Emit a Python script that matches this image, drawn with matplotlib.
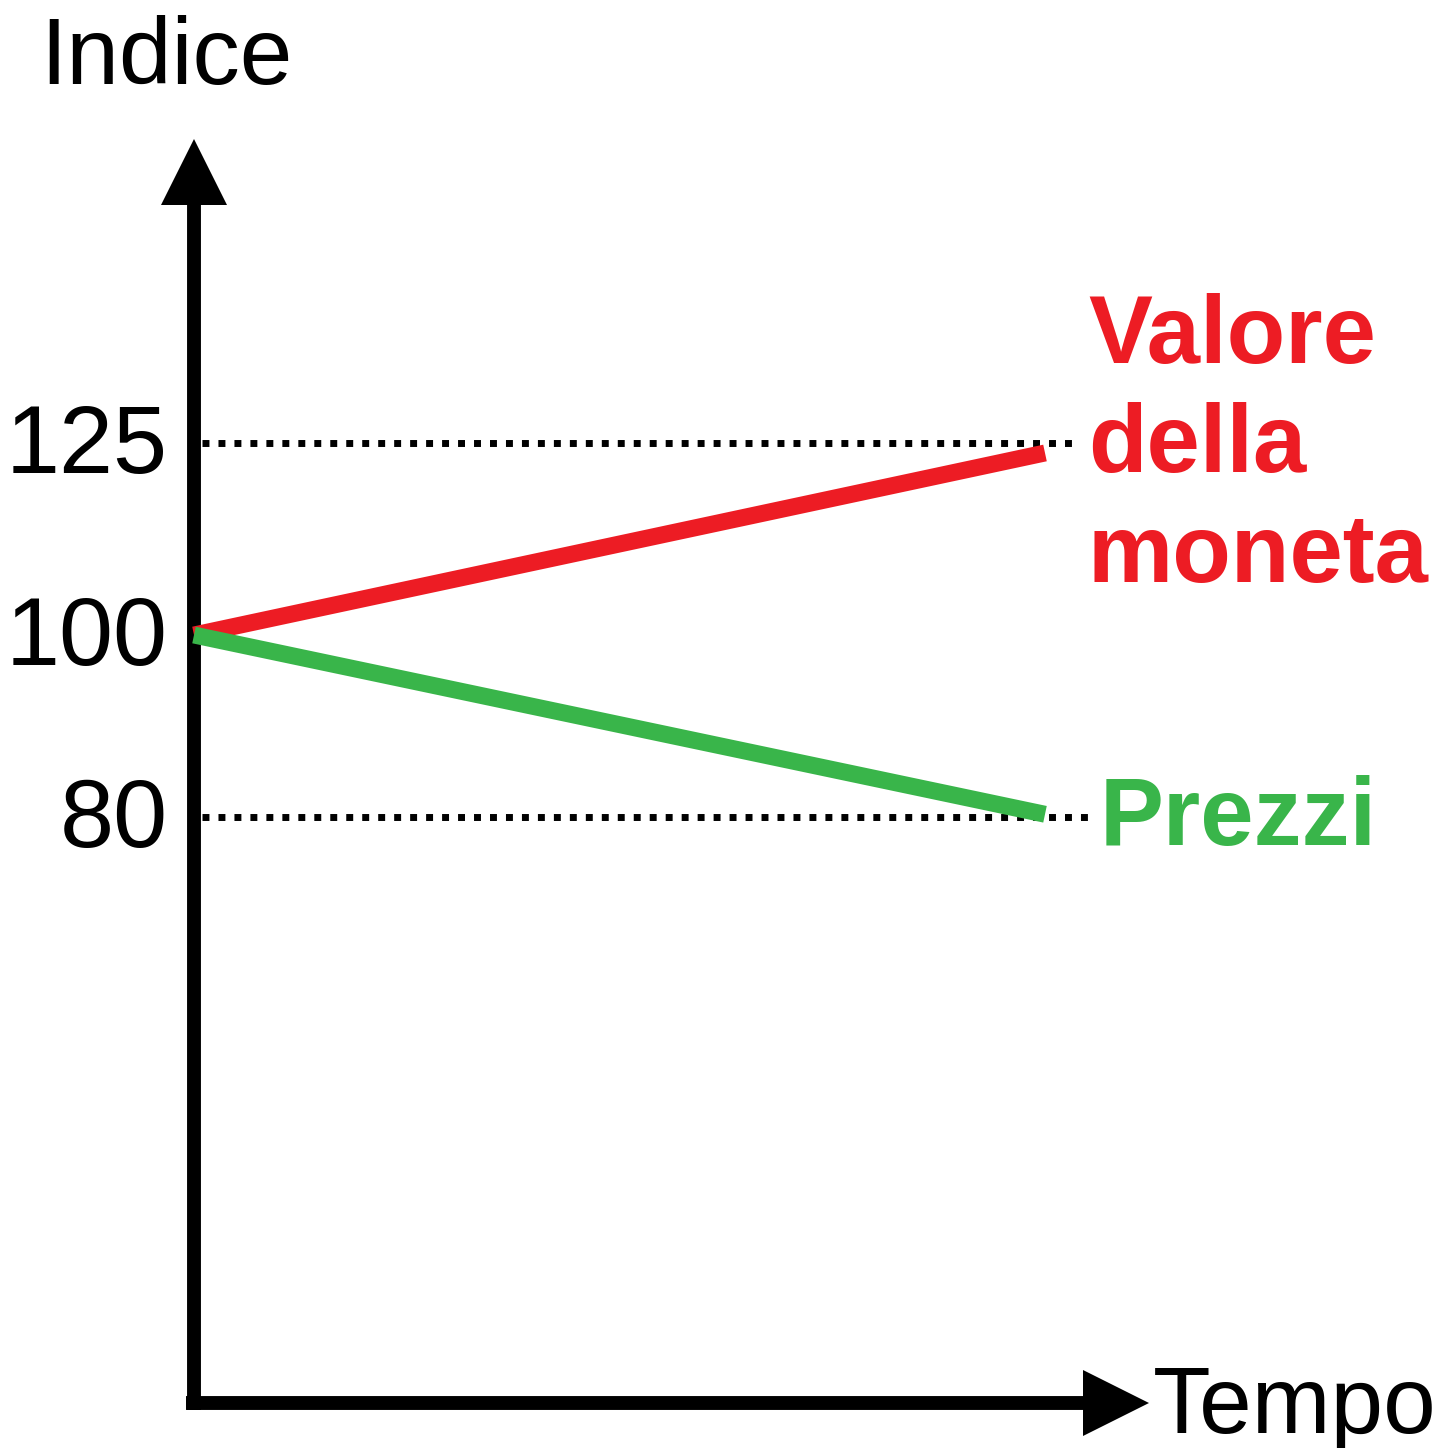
import numpy as np
import matplotlib
matplotlib.use("Agg")
import matplotlib.pyplot as plt
from matplotlib.transforms import ScaledTranslation

plt.rcParams['font.family'] = ['Liberation Sans', 'DejaVu Sans']

# data
tempo = [0, 1]
valore_moneta = [100, 123.7]
prezzi = [100, 80.3]
ref_levels = [125, 80]
y_ticks = [80, 100, 125]
y_ticklabels = ['80', '100', '125']

RED = '#ED1C24'
GREEN = '#39B54A'

W, H = 1449, 1448


# schematic y axis: the drawing is not to scale, 80-100 is stretched more than 100-125
def fwd(v):
    v = np.asarray(v, dtype=float)
    below = 635 + (100 - v) * 9.1
    above = 635 - (v - 100) * 7.68
    return -np.where(v < 100, below, above)


def inv(p):
    pix = -np.asarray(p, dtype=float)
    return np.where(pix > 635, 100 - (pix - 635) / 9.1, 100 - (pix - 635) / 7.68)


def ypix(p):
    return float(inv(-p))


X0, XS = 194, 851


def xpix(p):
    return (p - X0) / XS


fig = plt.figure(figsize=(W / 100, H / 100), dpi=100)
ax = fig.add_axes([0, 0, 1, 1])
ax.set_yscale('function', functions=(fwd, inv))
ax.set_xlim(xpix(0), xpix(W))
ax.set_ylim(ypix(H), ypix(0))

# axes as arrows
for s in ['top', 'right']:
    ax.spines[s].set_visible(False)
ax.spines['left'].set_position(('data', 0))
ax.spines['left'].set_bounds(ypix(1410), ypix(200))
ax.spines['bottom'].set_position(('data', ypix(1403)))
ax.spines['bottom'].set_bounds(xpix(186), xpix(1085))
for s in ['left', 'bottom']:
    ax.spines[s].set_linewidth(10)
    ax.spines[s].set_capstyle('butt')
ax.plot([0], [ypix(172)], marker='^', ms=47.5, mew=0, color='black', clip_on=False)
ax.plot([xpix(1115.5)], [ypix(1403)], marker='>', ms=48.2, mew=0, color='black', clip_on=False)

ax.set_xticks([])
ax.set_yticks(y_ticks)
ax.set_yticklabels(y_ticklabels, fontsize=70)
ax.tick_params(axis='y', length=0, pad=19)
lift = ScaledTranslation(0, 5 / 100, fig.dpi_scale_trans)
for lab in ax.get_yticklabels():
    lab.set_transform(lab.get_transform() + lift)

# dotted reference lines
ax.hlines(ref_levels[0], xpix(202), xpix(1075), colors='black', lw=5,
          linestyles=(0, (1, 1.3)))
ax.hlines(ref_levels[1], xpix(202), xpix(1092), colors='black', lw=5,
          linestyles=(0, (1, 1.3)))

# series
ax.plot(tempo, valore_moneta, color=RED, lw=12.2, solid_capstyle='butt', zorder=3)
ax.plot(tempo, prezzi, color=GREEN, lw=12.2, solid_capstyle='butt', zorder=3)

# labels
fig.text(40 / W, 1 - 84 / H, 'Indice', fontsize=68, va='baseline', ha='left')
fig.text(1153 / W, 1 - 1433 / H, 'Tempo', fontsize=68, va='baseline', ha='left')
fig.text(1088 / W, 1 - 582 / H, 'Valore\ndella\nmoneta', fontsize=69, fontweight='bold',
         color=RED, va='baseline', ha='left', linespacing=1.28)
fig.text(1100 / W, 1 - 845 / H, 'Prezzi', fontsize=69, fontweight='bold',
         color=GREEN, va='baseline', ha='left')

fig.savefig('out.png', dpi=100)
